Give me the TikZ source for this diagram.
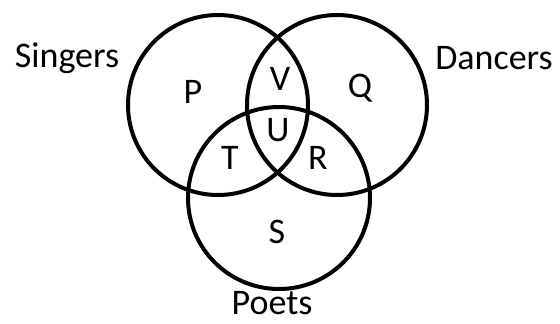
\documentclass[tikz,border=0pt]{standalone}
\usepackage{fontspec}
\setmainfont{Carlito}
\usepackage{tikz}
\usetikzlibrary{positioning}

\begin{document}
\begin{tikzpicture}[x=1pt,y=-1pt,
  ring/.style={line width=4pt,black},
  lbl/.style={font=\fontsize{36}{40}\selectfont,text=black,inner sep=0pt}]
\useasboundingbox (0,0) rectangle (560,324);
\coordinate (sing) at (218,105);
\coordinate (danc) at (337,105);
\coordinate (poet) at (279,198);

\draw[ring] (sing) circle (90);
\draw[ring] (danc) circle (90);
\draw[ring] (poet) circle (91);

\node[lbl] (singers) at (67,58) {Singers};
\node[lbl] (dancers) at (494,58) {Dancers};
\node[lbl] (poets) at (272,303) {Poets};

\node[lbl] (p) at (193,92) {P};
\node[lbl] (v) at (280,79) {V};
\node[lbl] (q) at (360,88) {Q};
\node[lbl] (t) at (230,158) {T};
\node[lbl] (u) at (278,130) {U};
\node[lbl] (r) at (318,158) {R};
\node[lbl] (s) at (277,232) {S};
\end{tikzpicture}
\end{document}
